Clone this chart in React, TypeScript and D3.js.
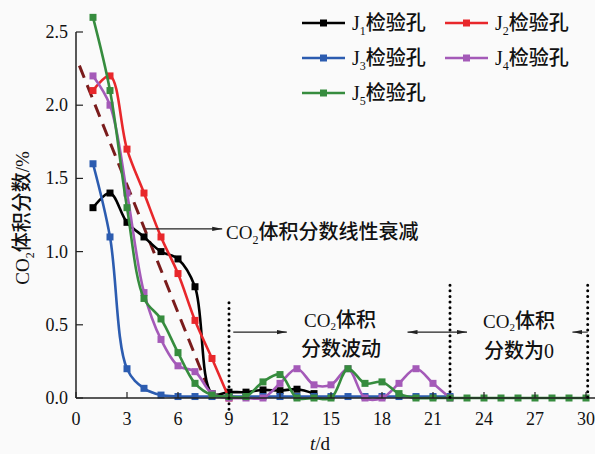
import React from "react";
import * as d3 from "d3";

// ---------- data ----------
const seriesNames = ["J1", "J2", "J3", "J4", "J5"];
const seriesSubs = ["1", "2", "3", "4", "5"];
const seriesColors = ["#000000", "#e8272b", "#2c5cb0", "#a45ab8", "#368c3e"];

const j1Days = [1, 2, 3, 4, 5, 6, 7, 8, 9, 10, 11, 12, 13, 14];
const j1Vals = [1.3, 1.4, 1.2, 1.1, 1.0, 0.95, 0.76, 0.03, 0.04, 0.04, 0.055, 0.05, 0.06, 0.03];

const j2Days = [1, 2, 3, 4, 5, 6, 7, 8, 9];
const j2Vals = [2.1, 2.2, 1.7, 1.4, 1.1, 0.85, 0.53, 0.27, 0.0];

const j3Days = [1, 2, 3, 4, 5, 6, 7, 8, 9, 10, 11, 12, 13, 14, 15, 16, 17, 18, 19, 20, 21, 22];
const j3Vals = [1.6, 1.1, 0.2, 0.066, 0.02, 0.01, 0.01, 0.01, 0.01, 0.01, 0.01, 0.01, 0.01, 0.01, 0.01, 0.01, 0.01, 0.01, 0.01, 0.01, 0.01, 0.01];

const j4Days = [1, 2, 3, 4, 5, 6, 7, 8, 9, 10, 11, 12, 13, 14, 15, 16, 17, 18, 19, 20, 21, 22];
const j4Vals = [2.2, 2.0, 1.4, 0.72, 0.4, 0.22, 0.18, 0.03, 0.0, 0.0, 0.0, 0.1, 0.2, 0.09, 0.09, 0.2, 0.0, 0.0, 0.1, 0.2, 0.1, 0.0];

const j5Days = [1, 2, 3, 4, 5, 6, 7, 8, 9, 10, 11, 12, 13, 14, 15, 16, 17, 18, 19, 20, 21, 22, 23, 24, 25, 26, 27, 28, 29, 30];
const j5Vals = [2.6, 2.1, 1.3, 0.68, 0.54, 0.31, 0.1, 0.02, 0.01, 0.01, 0.11, 0.16, 0.0, 0.0, 0.0, 0.2, 0.1, 0.11, 0.03, 0.0, 0.0, 0.0, 0.0, 0.0, 0.0, 0.0, 0.0, 0.0, 0.0, 0.0];

const trendDays = [0.2, 7.8];
const trendVals = [2.27, 0.06];

const xTicks = [0, 3, 6, 9, 12, 15, 18, 21, 24, 27, 30];
const yTicks = [0, 0.5, 1.0, 1.5, 2.0, 2.5];

// dividers: day, top value, bottom value
const dividerDays = [9, 22, 30.1];
const dividerTops = [0.65, 0.77, 0.77];
const dividerBottoms = [-0.1, -0.02, -0.02];

// arrows
const arrowFrom = [4.1, 9.25, 19.5, 30.1];
const arrowTo = [8.6, 12.4, 23.0, 29.2];
const arrowVal = [1.155, 0.45, 0.45, 0.45];
const arrowDouble = [false, false, true, false];

const allDays = [j1Days, j2Days, j3Days, j4Days, j5Days];
const allVals = [j1Vals, j2Vals, j3Vals, j4Vals, j5Vals];

const LATF = "'Liberation Serif', 'DejaVu Serif', 'Times New Roman', serif";
const CJKF = "'Noto Sans CJK SC', 'Noto Sans CJK JP', sans-serif";
const lat = (size: number, extra: any = {}) => ({ fontFamily: LATF, fontSize: size + "px", ...extra });
const cjk = (size: number) => ({ fontFamily: CJKF, fontSize: size + "px", fontWeight: 500 });

export default function App() {
  const W = 595, H = 454;
  const x = d3.scaleLinear().domain([0, 30]).range([76, 586]);
  const y = d3.scaleLinear().domain([0, 2.5]).range([398, 32]);

  const line = d3
    .line<[number, number]>()
    .x((d) => x(d[0]))
    .y((d) => y(d[1]))
    .curve(d3.curveCatmullRom.alpha(0.5));

  const straight = d3
    .line<[number, number]>()
    .x((d) => x(d[0]))
    .y((d) => y(d[1]));

  const ms = 7;

  const legendPos = [
    [302, 23],
    [445, 23],
    [302, 58],
    [445, 58],
    [302, 93],
  ];

  return (
    <svg
      width={W}
      height={H}
      style={{ position: "absolute", left: 0, top: 0, background: "#fafafa", fontFamily: LATF }}
    >
      <defs>
        <marker id="ah" viewBox="0 0 10 6" refX="10" refY="3" markerWidth="10" markerHeight="6" orient="auto-start-reverse" markerUnits="userSpaceOnUse">
          <path d="M0,0.8 L10,3 L0,5.2 Z" fill="#222" />
        </marker>
      </defs>

      {/* trend dashed line */}
      <path
        d={straight(trendDays.map((d, i) => [d, trendVals[i]] as [number, number])) || ""}
        stroke="#7a1c1c"
        strokeWidth={3}
        strokeDasharray="13 8"
        fill="none"
      />

      {/* series */}
      {allDays.map((days, si) => {
        const pts = days.map((d, i) => [d, allVals[si][i]] as [number, number]);
        return (
          <g key={si}>
            <path d={line(pts) || ""} stroke={seriesColors[si]} strokeWidth={2.6} fill="none" />
            {pts.map((p, i) => (
              <rect key={i} x={x(p[0]) - ms / 2} y={y(p[1]) - ms / 2} width={ms} height={ms} fill={seriesColors[si]} />
            ))}
          </g>
        );
      })}

      {/* axes */}
      <line x1={x(0)} x2={595} y1={y(0)} y2={y(0)} stroke="#222" strokeWidth={1.5} />
      <line x1={x(0)} x2={x(0)} y1={y(0)} y2={y(2.5)} stroke="#222" strokeWidth={1.5} />
      {xTicks.map((t) => (
        <g key={"xt" + t}>
          <line x1={x(t)} x2={x(t)} y1={y(0)} y2={y(0) - 6} stroke="#222" strokeWidth={1.2} />
          <text x={x(t)} y={425} textAnchor="middle" style={lat(18)} fill="#111">{t}</text>
        </g>
      ))}
      {yTicks.map((t) => (
        <g key={"yt" + t}>
          <line x1={x(0)} x2={x(0) + 7} y1={y(t)} y2={y(t)} stroke="#222" strokeWidth={1.2} />
          <text x={68} y={y(t) + 6} textAnchor="end" style={lat(18)} fill="#111">{t.toFixed(1)}</text>
        </g>
      ))}

      {/* axis titles */}
      <text x={320} y={450} textAnchor="middle" style={lat(19)} fill="#111">
        <tspan style={{ fontStyle: "italic" }}>t</tspan>/d
      </text>
      <text transform="translate(29,218) rotate(-90)" textAnchor="middle" fill="#111" style={lat(19)}>
        <tspan style={lat(19)}>CO</tspan>
        <tspan style={lat(12)} dy={5}>2</tspan>
        <tspan style={cjk(20)} dy={-5}>体积分数</tspan>
        <tspan style={lat(19)}>/%</tspan>
      </text>

      {/* dividers */}
      {dividerDays.map((d, i) => (
        <line key={"dv" + i} x1={x(d)} x2={x(d)} y1={y(dividerTops[i])} y2={y(dividerBottoms[i])}
          stroke="#000" strokeWidth={3} strokeDasharray="0 5.6" strokeLinecap="round" />
      ))}

      {/* arrows */}
      {arrowFrom.map((f, i) => (
        <line key={"ar" + i} x1={x(f)} x2={x(arrowTo[i])} y1={y(arrowVal[i])} y2={y(arrowVal[i])}
          stroke="#222" strokeWidth={1.1}
          markerEnd="url(#ah)" markerStart={arrowDouble[i] ? "url(#ah)" : undefined} />
      ))}

      {/* annotations */}
      <text x={226} y={239} fill="#111" style={lat(19)}>
        <tspan style={lat(19)}>CO</tspan>
        <tspan style={lat(12)} dy={5}>2</tspan>
        <tspan style={cjk(20)} dy={-5}>体积分数线性衰减</tspan>
      </text>
      <text x={340} y={327} textAnchor="middle" fill="#111" style={lat(19)}>
        <tspan style={lat(19)}>CO</tspan>
        <tspan style={lat(11)} dy={3}>2</tspan>
        <tspan style={cjk(20)} dy={-3}>体积</tspan>
      </text>
      <text x={341} y={356} textAnchor="middle" style={cjk(20)} fill="#111">分数波动</text>
      <text x={519} y={328} textAnchor="middle" fill="#111" style={lat(19)}>
        <tspan style={lat(19)}>CO</tspan>
        <tspan style={lat(11)} dy={3}>2</tspan>
        <tspan style={cjk(20)} dy={-3}>体积</tspan>
      </text>
      <text x={519} y={358} textAnchor="middle" fill="#111" style={lat(20)}>
        <tspan style={cjk(20)}>分数为</tspan>
        <tspan style={lat(20)}>0</tspan>
      </text>

      {/* legend */}
      {seriesNames.map((n, i) => {
        const [lx, ly] = legendPos[i];
        return (
          <g key={"lg" + n}>
            <line x1={lx} x2={lx + 43} y1={ly} y2={ly} stroke={seriesColors[i]} strokeWidth={2.6} />
            <rect x={lx + 21.5 - ms / 2} y={ly - ms / 2} width={ms} height={ms} fill={seriesColors[i]} />
            <text x={lx + 50} y={ly + 7} fill="#111" style={lat(20)}>
              <tspan style={lat(20)}>J</tspan>
              <tspan style={lat(12)} dy={5}>{seriesSubs[i]}</tspan>
              <tspan style={cjk(20)} dy={-5}>检验孔</tspan>
            </text>
          </g>
        );
      })}
    </svg>
  );
}
